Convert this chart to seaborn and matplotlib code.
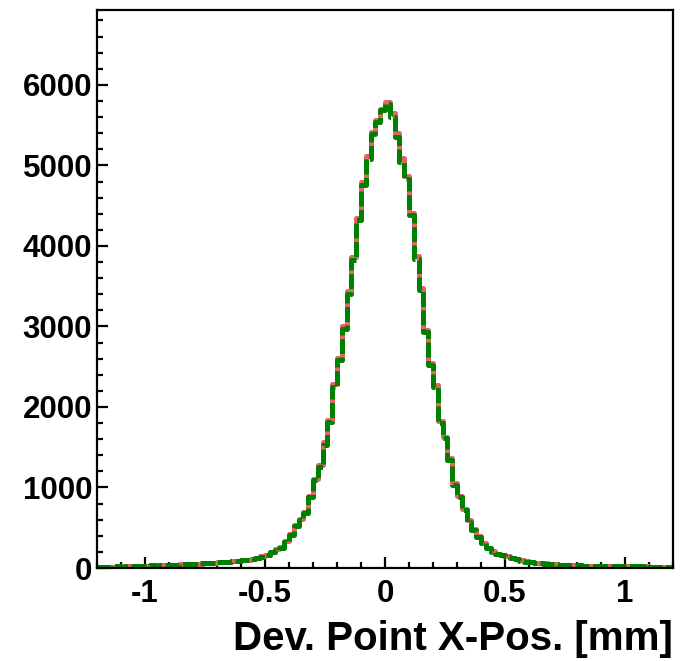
import numpy as np
import pandas as pd
import matplotlib
matplotlib.use("Agg")
import matplotlib.pyplot as plt
import seaborn as sns
from matplotlib.ticker import MultipleLocator, FixedLocator, FixedFormatter

# ---- data ----
bin_lo, bin_hi, n_bins = -1.2, 1.2, 120

green_counts = [
    14, 17, 15, 19, 21, 18, 22, 24, 27, 25, 30, 33, 31, 36, 38,
    42, 40, 45, 48, 52, 50, 56, 60, 58, 64, 69, 72, 78, 83, 90,
    95, 102, 110, 120, 140, 161, 203, 223, 250, 327, 410, 520, 590, 680, 885,
    1092, 1257, 1526, 1816, 2250, 2581, 2974, 3400, 3822, 4318, 4752, 5083, 5393, 5538, 5683,
    5765, 5600, 5352, 5042, 4835, 4380, 3842, 3449, 2932, 2519, 2250, 1795, 1609, 1340, 1030,
    885, 720, 575, 471, 389, 306, 244, 203, 174, 161, 140, 120, 108, 91, 79,
    74, 66, 60, 55, 50, 47, 42, 40, 37, 35, 32, 30, 31, 28, 26,
    27, 24, 23, 25, 21, 22, 20, 19, 21, 18, 17, 18, 16, 15, 16,
]

red_counts = [
    15, 16, 17, 18, 20, 19, 23, 22, 26, 27, 29, 32, 33, 35, 39,
    41, 42, 44, 49, 50, 53, 55, 59, 61, 63, 70, 74, 77, 85, 92,
    97, 104, 112, 125, 146, 165, 200, 230, 262, 335, 420, 530, 605, 700, 900,
    1110, 1280, 1560, 1840, 2290, 2610, 3010, 3440, 3860, 4350, 4790, 5120, 5420, 5570, 5700,
    5790, 5650, 5400, 5090, 4870, 4410, 3870, 3480, 2960, 2540, 2270, 1820, 1630, 1360, 1050,
    900, 735, 590, 480, 398, 315, 250, 209, 178, 164, 143, 123, 110, 94, 81,
    76, 68, 61, 56, 52, 48, 43, 41, 38, 36, 33, 31, 30, 29, 27,
    26, 25, 24, 23, 22, 21, 21, 20, 19, 19, 18, 17, 16, 16, 15,
]

xtick_values = [-1, -0.5, 0, 0.5, 1]
xtick_labels = ["-1", "-0.5", "0", "0.5", "1"]
ytick_values = [0, 1000, 2000, 3000, 4000, 5000, 6000]
ytick_labels = ["0", "1000", "2000", "3000", "4000", "5000", "6000"]
x_label = "Dev. Point X-Pos. [mm]"

edges = np.linspace(bin_lo, bin_hi, n_bins + 1)
centers = 0.5 * (edges[:-1] + edges[1:])
df_red = pd.DataFrame({"x": centers, "w": np.asarray(red_counts, dtype=float)})
df_green = pd.DataFrame({"x": centers, "w": np.asarray(green_counts, dtype=float)})

# ---- style ----
sns.set_style("ticks")
plt.rcParams["font.family"] = ["Liberation Sans", "DejaVu Sans"]
plt.rcParams["font.weight"] = "bold"
plt.rcParams["text.color"] = "black"
plt.rcParams["axes.labelcolor"] = "black"
plt.rcParams["xtick.color"] = "black"
plt.rcParams["ytick.color"] = "black"

fig = plt.figure(figsize=(6.88, 6.61), dpi=100)
ax = fig.add_axes([97 / 688, 1 - 568 / 661, (673 - 97) / 688, (568 - 10) / 661])

sns.histplot(data=df_red, x="x", weights="w", bins=n_bins, binrange=(bin_lo, bin_hi),
             element="step", fill=False, color="#e06666", linewidth=3.6, ax=ax)
sns.histplot(data=df_green, x="x", weights="w", bins=n_bins, binrange=(bin_lo, bin_hi),
             element="step", fill=False, color="#008000", linewidth=3.6, ax=ax,
             linestyle=(0, (3.0, 0.7)))

ax.set_xlim(bin_lo, bin_hi)
ax.set_ylim(0, 6930)

for s in ax.spines.values():
    s.set_linewidth(1.6)
    s.set_color("black")
    s.set_visible(True)

ax.xaxis.set_major_locator(FixedLocator(xtick_values))
ax.xaxis.set_major_formatter(FixedFormatter(xtick_labels))
ax.xaxis.set_minor_locator(MultipleLocator(0.1))
ax.yaxis.set_major_locator(FixedLocator(ytick_values))
ax.yaxis.set_major_formatter(FixedFormatter(ytick_labels))
ax.yaxis.set_minor_locator(MultipleLocator(200))

ax.tick_params(which="both", direction="in", top=False, right=False, width=1.6, color="black")
ax.tick_params(which="major", length=8)
ax.tick_params(which="minor", length=4)
ax.tick_params(axis="y", which="major", pad=3.5, labelsize=22.5, labelcolor="black")
ax.tick_params(axis="x", which="major", pad=8, labelsize=22.5, labelcolor="black")
for lab in ax.get_xticklabels() + ax.get_yticklabels():
    lab.set_fontweight("bold")

ax.set_ylabel("")
ax.set_xlabel(x_label, fontsize=29, fontweight="bold", color="black", loc="right", labelpad=8)

fig.savefig("out.png", dpi=100)
